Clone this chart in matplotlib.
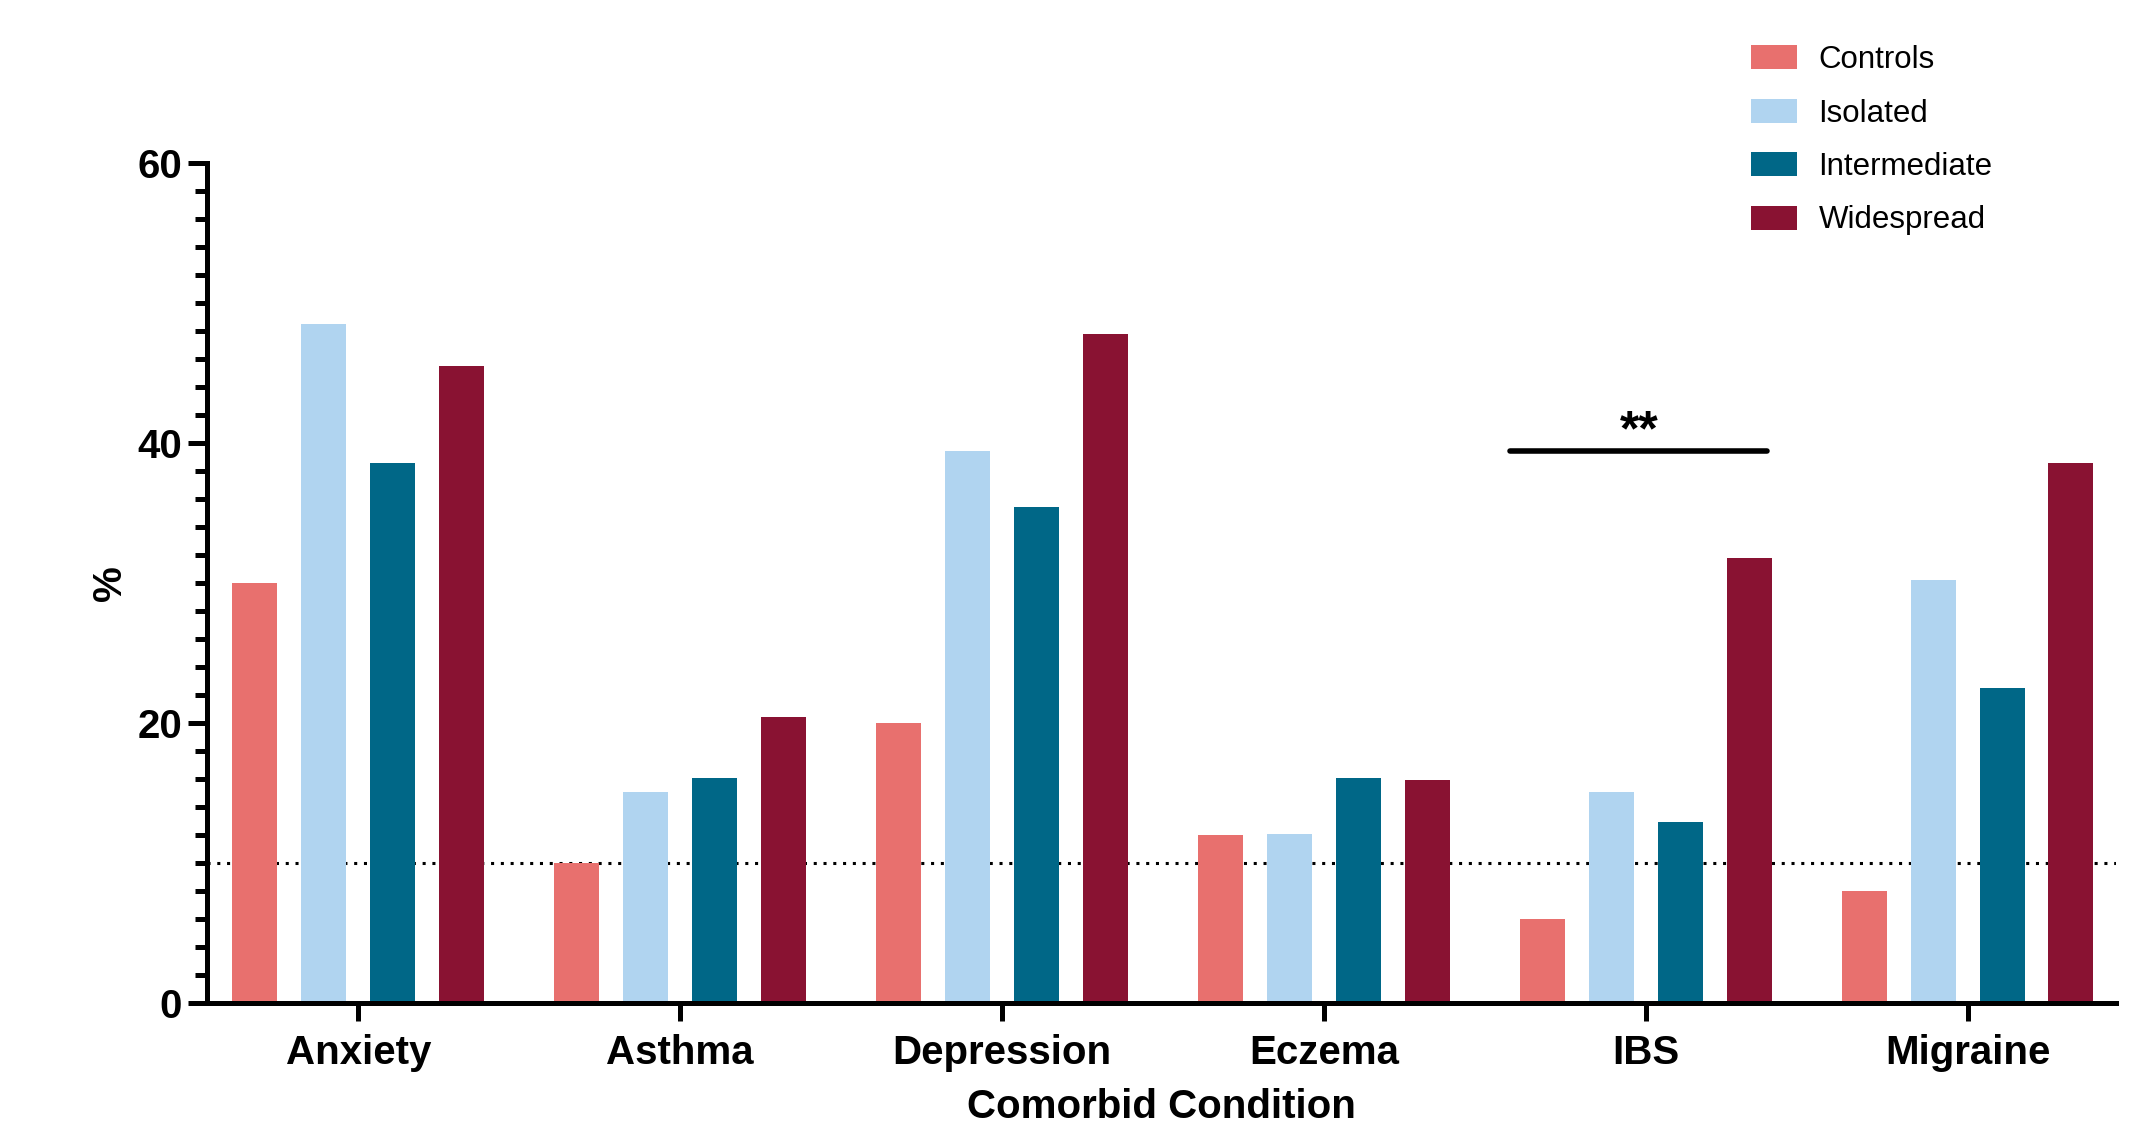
import numpy as np
import matplotlib
matplotlib.use("Agg")
import matplotlib.pyplot as plt
from matplotlib.ticker import MultipleLocator

plt.rcParams['font.family'] = ['Liberation Sans', 'DejaVu Sans']

conditions = ['Anxiety', 'Asthma', 'Depression', 'Eczema', 'IBS', 'Migraine']
groups = ['Controls', 'Isolated', 'Intermediate', 'Widespread']
controls = [30.0, 10.0, 20.0, 12.0, 6.0, 8.0]
isolated = [48.5, 15.1, 39.4, 12.1, 15.1, 30.2]
intermediate = [38.6, 16.1, 35.4, 16.1, 12.9, 22.5]
widespread = [45.5, 20.4, 47.8, 15.9, 31.8, 38.6]
colors = ['#E8706E', '#B0D4F0', '#006787', '#891232']
ref_line = 10
sig_label = '**'
sig_height = 39.4

series = [controls, isolated, intermediate, widespread]

fig = plt.figure(figsize=(21.38, 11.35), dpi=100)
ax = fig.add_axes([0.0968, 0.1163, 0.8929, 0.7401])

x = np.arange(len(conditions))
pitch = 0.214
w = 0.14
for i, (vals, c, name) in enumerate(zip(series, colors, groups)):
    ax.bar(x + (i - 1.5) * pitch, vals, width=w, color=c, label=name, zorder=2)

ax.axhline(ref_line, color='black', linestyle=(0, (1, 2.2)), linewidth=2.2, zorder=1)

# significance bar over IBS
ibs = conditions.index('IBS')
x0 = ibs - 1.5 * pitch - w / 2 - 0.03
x1 = ibs + 1.5 * pitch + w / 2 - 0.015
ax.plot([x0, x1], [sig_height, sig_height], color='black', lw=4,
        solid_capstyle='round', zorder=3)
ax.text(ibs - 0.02, sig_height - 0.3, sig_label, ha='center', va='bottom',
        fontsize=36, fontweight='bold')

ax.set_xlim(-0.47, 5.461)
ax.set_ylim(0, 60)
ax.set_xticks(x)
ax.set_xticklabels(conditions, fontsize=29, fontweight='bold')
ax.yaxis.set_major_locator(MultipleLocator(20))
ax.yaxis.set_minor_locator(MultipleLocator(2))
for lab in ax.get_yticklabels():
    lab.set_fontsize(29)
    lab.set_fontweight('bold')

for s in ['top', 'right']:
    ax.spines[s].set_visible(False)
for s in ['left', 'bottom']:
    ax.spines[s].set_linewidth(3.6)
ax.tick_params(axis='x', length=13, width=3.6, pad=9)
ax.tick_params(axis='y', which='major', length=14, width=3.6, pad=4)
ax.tick_params(axis='y', which='minor', length=9, width=3.6)

ax.set_xlabel('Comorbid Condition', fontsize=29, fontweight='bold', labelpad=12)
ax.set_ylabel('%', fontsize=29, fontweight='bold', labelpad=6)

fig.legend(loc='upper left', bbox_to_anchor=(0.806, 0.985), frameon=False,
           fontsize=22.5, handlelength=1.45, handleheight=0.8,
           labelspacing=0.75, handletextpad=0.7)

fig.savefig('out.png', dpi=100)
